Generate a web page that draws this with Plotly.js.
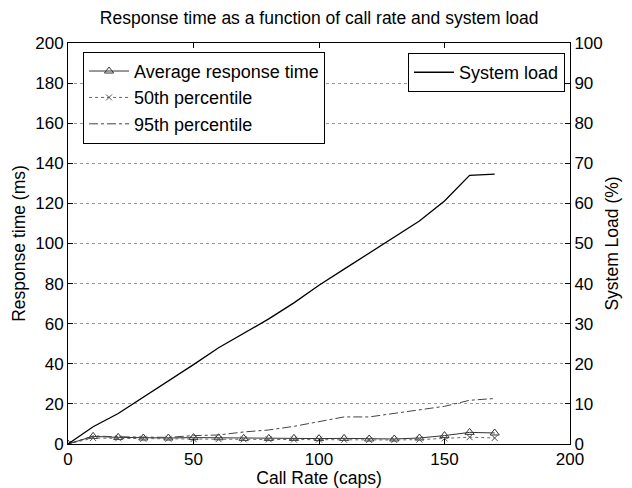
<!DOCTYPE html>
<html>
<head>
<meta charset="utf-8">
<script src="https://cdn.plot.ly/plotly-3.0.1.min.js"></script>
<style>html,body{margin:0;padding:0;background:#fff;}#chart{width:632px;height:488px;}</style>
</head>
<body>
<div id="chart"></div>
<script>
const callRate = [0,10,20,30,40,50,60,70,80,90,100,110,120,130,140,150,160,170];
const avgResponse = [0,3.8,3.3,3.0,3.0,3.2,3.1,2.8,2.8,2.8,2.7,2.8,2.5,2.5,3.0,4.2,5.8,5.5];
const p50 = [0,3.0,2.8,2.6,2.6,2.5,2.4,2.3,2.3,2.2,2.2,2.1,2.0,2.0,2.2,2.8,3.4,3.0];
const p95 = [0,4.0,3.6,3.5,3.3,4.2,4.5,6.0,7.0,8.8,11.3,13.5,13.5,15.2,17.2,18.8,21.8,22.7];
const systemLoad = [0,4.3,7.6,11.6,15.6,19.8,24.0,27.6,31.2,35.2,39.6,43.6,47.6,51.6,55.6,60.6,67.0,67.3];

const F = "Liberation Sans, Arial, sans-serif";
const traces = [
  {x: callRate, y: avgResponse, name: "Average response time", mode: "lines+markers",
   line: {color: "#333", width: 1}, marker: {symbol: "triangle-up-open", size: 8, color: "#333", line: {width: 1}}},
  {x: callRate, y: p50, name: "50th percentile", mode: "lines+markers",
   line: {color: "#666", width: 1, dash: "dot"}, marker: {symbol: "x-thin-open", size: 6, color: "#555", line: {width: 1, color: "#555"}}},
  {x: callRate, y: p95, name: "95th percentile", mode: "lines",
   line: {color: "#444", width: 1, dash: "dashdot"}},
  {x: callRate, y: systemLoad, name: "System load", mode: "lines", yaxis: "y2", legend: "legend2",
   line: {color: "#000", width: 1.3}}
];

const layout = {
  width: 632, height: 488,
  margin: {l: 68, r: 62, t: 43, b: 44},
  paper_bgcolor: "#fff", plot_bgcolor: "#fff",
  font: {family: F, color: "#000", size: 17},
  title: {text: "Response time as a function of call rate and system load", font: {size: 17.5, family: F},
          x: 0.505, xanchor: "center", y: 0.963, yanchor: "middle"},
  xaxis: {range: [0, 200], dtick: 50, ticks: "inside", ticklen: 5, tickcolor: "#000",
          showline: true, linecolor: "#000", linewidth: 1, mirror: "ticks", showgrid: false, zeroline: false,
          tickfont: {size: 17}, title: {text: "Call Rate (caps)", font: {size: 17.5}, standoff: 2}},
  yaxis: {range: [0, 200], dtick: 20, ticks: "inside", ticklen: 5, tickcolor: "#000",
          showline: true, linecolor: "#000", linewidth: 1, zeroline: false,
          showgrid: true, gridcolor: "#999", griddash: "dot", gridwidth: 1,
          tickfont: {size: 17}, title: {text: "Response time (ms)", font: {size: 17.5}, standoff: 5}},
  yaxis2: {range: [0, 100], dtick: 10, overlaying: "y", side: "right", ticks: "inside", ticklen: 5, tickcolor: "#000",
           showline: true, linecolor: "#000", linewidth: 1, zeroline: false, showgrid: false,
           tickfont: {size: 17}, title: {text: "System Load (%)", font: {size: 17.5}, standoff: 3}},
  legend: {x: 0.03, y: 0.978, xanchor: "left", yanchor: "top", bgcolor: "#fff",
           bordercolor: "#000", borderwidth: 1, font: {size: 18, family: F}, tracegroupgap: 0, itemwidth: 40},
  legend2: {x: 0.99, y: 0.975, xanchor: "right", yanchor: "top", bgcolor: "#fff",
            bordercolor: "#000", borderwidth: 1, font: {size: 18, family: F}, itemwidth: 40},
  showlegend: true
};

Plotly.newPlot("chart", traces, layout, {staticPlot: true, displayModeBar: false});
</script>
</body>
</html>
